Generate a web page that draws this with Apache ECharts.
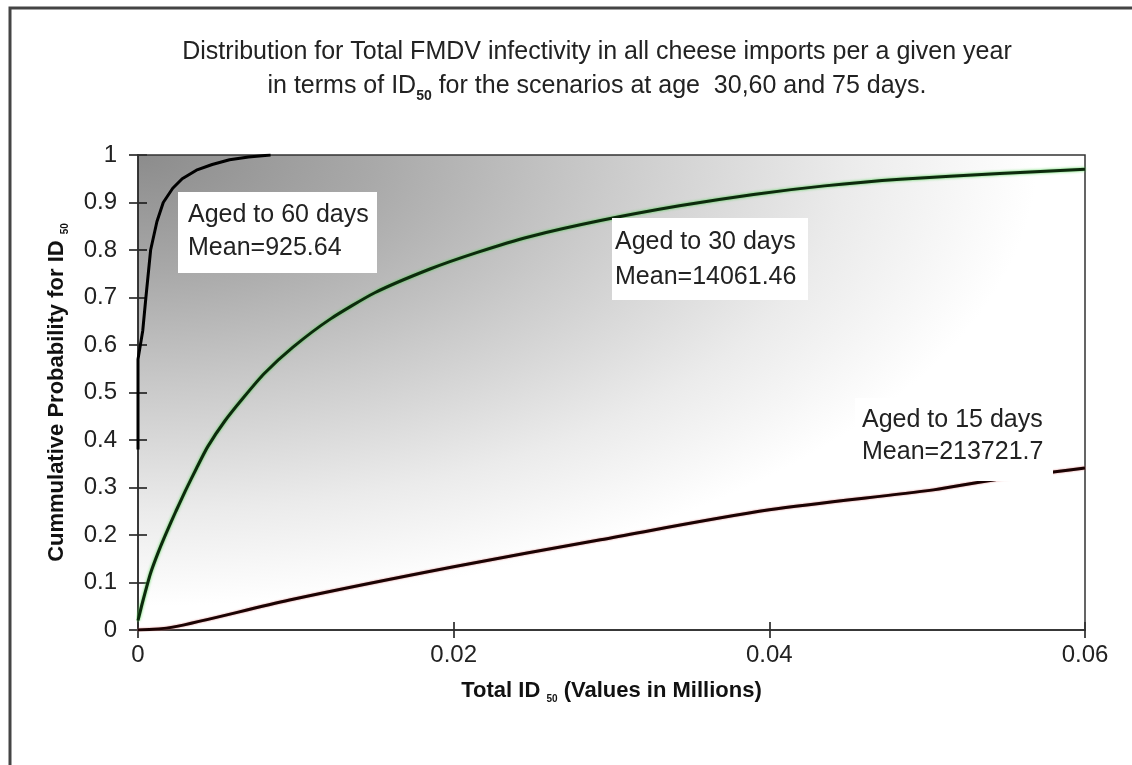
<!DOCTYPE html>
<html>
<head>
<meta charset="utf-8">
<script src="https://cdn.jsdelivr.net/npm/echarts@6/dist/echarts.min.js"></script>
<style>
  html, body { margin: 0; padding: 0; background: #fff; }
  #chart { width: 1132px; height: 765px; }
</style>
</head>
<body>
<div id="chart"></div>
<script>
  // tick labels
  const xTicks = [0, 0.02, 0.04, 0.06]
  const yTicks = [0, 0.1, 0.2, 0.3, 0.4, 0.5, 0.6, 0.7, 0.8, 0.9, 1]

  // aged to 60 days (total ID50 in millions, cumulative probability)
  const aged60X = [0, 0, 0.0001, 0.0002, 0.0003, 0.0005, 0.0008, 0.0012, 0.0016, 0.0022, 0.0028, 0.0037, 0.0047, 0.0058, 0.007, 0.0084]
  const aged60Y = [0.38, 0.57, 0.59, 0.61, 0.63, 0.7, 0.8, 0.86, 0.9, 0.93, 0.95, 0.968, 0.98, 0.99, 0.996, 1.0]

  // aged to 30 days
  const aged30X = [0, 0.0003, 0.0008, 0.0013, 0.0018, 0.0024, 0.003, 0.0037, 0.0044, 0.0055, 0.0067, 0.008, 0.0098, 0.0122, 0.015, 0.0185, 0.0215, 0.0248, 0.0293, 0.0343, 0.039, 0.0435, 0.0483, 0.0546, 0.06]
  const aged30Y = [0.02, 0.06, 0.12, 0.165, 0.205, 0.25, 0.293, 0.34, 0.385, 0.44, 0.49, 0.54, 0.595, 0.655, 0.71, 0.76, 0.795, 0.828, 0.862, 0.893, 0.917, 0.935, 0.949, 0.961, 0.97]

  // aged to 15 days
  const aged15X = [0, 0.0022, 0.0096, 0.02, 0.0293, 0.04, 0.0504, 0.0542, 0.06]
  const aged15Y = [0, 0.006, 0.063, 0.133, 0.19, 0.253, 0.295, 0.316, 0.341]

  const FONT = '"Liberation Sans", Arial, sans-serif'
  // plot area in pixels
  const G = { left: 138, top: 155, right: 47, bottom: 135 }
  const GW = 1132 - G.left - G.right
  const GH = 765 - G.top - G.bottom

  function pairs(xs, ys) {
    return xs.map((x, i) => [x, ys[i]])
  }

  const nameRich = {
    b: { fontFamily: FONT, fontSize: 22, fontWeight: 'bold', color: '#111', lineHeight: 26 },
    s: { fontFamily: FONT, fontSize: 10, fontWeight: 'bold', color: '#111', lineHeight: 14, verticalAlign: 'bottom' }
  }

  const myChart = echarts.init(document.getElementById('chart'))

  const option = {
    backgroundColor: '#fff',
    animation: false,
    title: {
      text: 'Distribution for Total FMDV infectivity in all cheese imports per a given year\n' +
        '{n|in terms of ID}{s|50}{n| for the scenarios at age  30,60 and 75 days.}',
      left: 592,
      top: 30,
      textAlign: 'center',
      textStyle: {
        fontFamily: FONT,
        fontSize: 25,
        fontWeight: 'normal',
        color: '#222',
        lineHeight: 34,
        rich: {
          n: { fontFamily: FONT, fontSize: 25, color: '#222', lineHeight: 34 },
          s: { fontFamily: FONT, fontSize: 14, fontWeight: 'bold', color: '#222', lineHeight: 20, verticalAlign: 'bottom' }
        }
      }
    },
    grid: {
      left: G.left,
      top: G.top,
      right: G.right,
      bottom: G.bottom,
      containLabel: false
    },
    xAxis: [{
      type: 'value',
      min: xTicks[0],
      max: xTicks[xTicks.length - 1],
      interval: 0.02,
      position: 'bottom',
      name: '{b|Total ID }{s|50}{b| (Values in Millions)}',
      nameLocation: 'middle',
      nameGap: 48,
      nameTextStyle: { rich: nameRich },
      axisLine: { show: true, onZero: false, lineStyle: { color: '#111', width: 1.5 } },
      axisTick: { show: true, length: 8, lineStyle: { color: '#111', width: 1.5 } },
      axisLabel: { fontFamily: FONT, fontSize: 24, color: '#222', margin: 13 },
      splitLine: { show: false }
    }, {
      // inner half of the cross ticks
      type: 'value',
      min: xTicks[0],
      max: xTicks[xTicks.length - 1],
      interval: 0.02,
      position: 'bottom',
      axisLine: { show: false },
      axisTick: { show: true, inside: true, length: 8, lineStyle: { color: '#111', width: 1.5 } },
      axisLabel: { show: false },
      splitLine: { show: false }
    }],
    yAxis: [{
      type: 'value',
      min: yTicks[0],
      max: yTicks[yTicks.length - 1],
      interval: 0.1,
      position: 'left',
      name: '{b|Cummulative Probability for ID }{s|50}',
      nameLocation: 'middle',
      nameRotate: 90,
      nameGap: 68,
      nameTextStyle: { rich: nameRich },
      axisLine: { show: true, onZero: false, lineStyle: { color: '#111', width: 1.5 } },
      axisTick: { show: true, length: 9, lineStyle: { color: '#111', width: 1.5 } },
      axisLabel: { fontFamily: FONT, fontSize: 24, color: '#222', margin: 21 },
      splitLine: { show: false }
    }, {
      type: 'value',
      min: yTicks[0],
      max: yTicks[yTicks.length - 1],
      interval: 0.1,
      position: 'left',
      axisLine: { show: false },
      axisTick: { show: true, inside: true, length: 9, lineStyle: { color: '#111', width: 1.5 } },
      axisLabel: { show: false },
      splitLine: { show: false }
    }],
    graphic: [
      {
        // plot area shading, dark in the top-left corner
        type: 'rect',
        z: -10,
        silent: true,
        x: G.left,
        y: G.top,
        scaleX: GW / GH,
        shape: { x: 0, y: 0, width: GH, height: GH },
        style: {
          fill: new echarts.graphic.RadialGradient(0, 0, 1, [
            { offset: 0, color: '#8c8c8c' },
            { offset: 0.25, color: '#a9a9a9' },
            { offset: 0.5, color: '#cbcbcb' },
            { offset: 0.75, color: '#ebebeb' },
            { offset: 0.95, color: '#ffffff' },
            { offset: 1, color: '#ffffff' }
          ])
        }
      },
      {
        type: 'rect',
        z: 1,
        silent: true,
        shape: { x: G.left, y: G.top, width: GW, height: GH },
        style: { fill: 'none', stroke: '#333', lineWidth: 1.5 }
      },
      {
        // outer chart frame
        type: 'rect',
        z: 1,
        silent: true,
        shape: { x: 10, y: 8, width: 1200, height: 900 },
        style: { fill: 'none', stroke: '#444', lineWidth: 3 }
      },
      // annotation boxes
      {
        type: 'rect', z: 50, silent: true,
        shape: { x: 178, y: 192, width: 199, height: 81 },
        style: { fill: '#ffffff' }
      },
      {
        type: 'text', z: 51, silent: true, x: 188, y: 199,
        style: { text: 'Aged to 60 days\nMean=925.64', font: '25px ' + FONT, fill: '#222', lineHeight: 33 }
      },
      {
        type: 'rect', z: 50, silent: true,
        shape: { x: 612, y: 218, width: 196, height: 82 },
        style: { fill: '#ffffff' }
      },
      {
        type: 'text', z: 51, silent: true, x: 615, y: 225,
        style: { text: 'Aged to 30 days\nMean=14061.46', font: '25px ' + FONT, fill: '#222', lineHeight: 35 }
      },
      {
        type: 'rect', z: 50, silent: true,
        shape: { x: 855, y: 398, width: 198, height: 83 },
        style: { fill: '#ffffff' }
      },
      {
        type: 'text', z: 51, silent: true, x: 862, y: 404,
        style: { text: 'Aged to 15 days\nMean=213721.7', font: '25px ' + FONT, fill: '#222', lineHeight: 32 }
      }
    ],
    series: [
      {
        name: 'Aged to 60 days',
        type: 'line',
        symbol: 'none',
        z: 3,
        lineStyle: { color: '#000', width: 3 },
        data: pairs(aged60X, aged60Y)
      },
      {
        name: 'Aged to 30 days',
        type: 'line',
        symbol: 'none',
        smooth: 0.2,
        z: 3,
        lineStyle: { color: '#0d2a0d', width: 3, shadowColor: '#4fd24f', shadowBlur: 3 },
        data: pairs(aged30X, aged30Y)
      },
      {
        name: 'Aged to 15 days',
        type: 'line',
        symbol: 'none',
        smooth: 0.3,
        z: 3,
        lineStyle: { color: '#1a0303', width: 3, shadowColor: '#d98080', shadowBlur: 2 },
        data: pairs(aged15X, aged15Y)
      }
    ]
  }
  myChart.setOption(option)
</script>
</body>
</html>
